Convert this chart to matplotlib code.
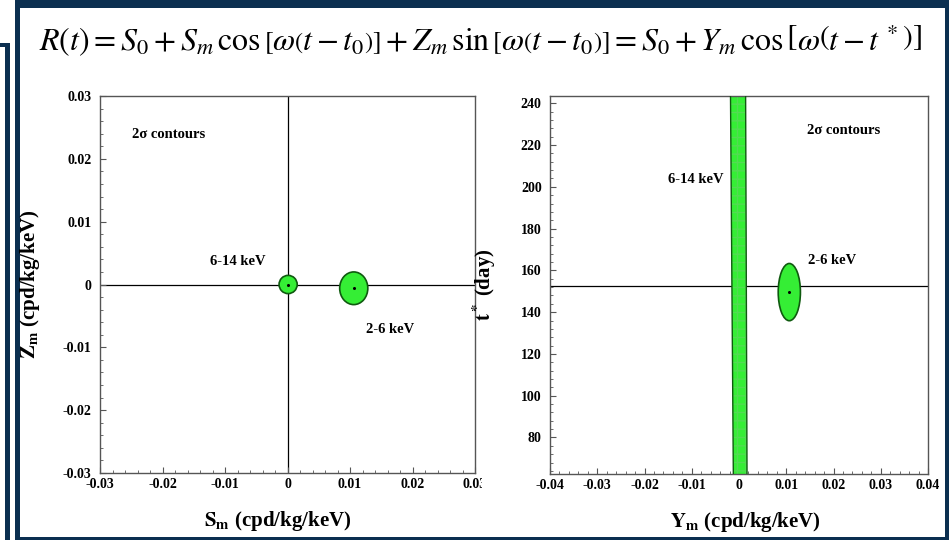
import matplotlib
matplotlib.use("Agg")
import matplotlib.pyplot as plt
from matplotlib.patches import Ellipse, Rectangle, Polygon
from matplotlib.ticker import MultipleLocator, AutoMinorLocator, FuncFormatter

plt.rcParams['font.family'] = ['Liberation Serif', 'DejaVu Serif']
plt.rcParams['font.weight'] = 'bold'
plt.rcParams['axes.labelweight'] = 'bold'
# math fonts named with an explicit weight, otherwise they pick up font.weight
plt.rcParams['mathtext.fontset'] = 'custom'
plt.rcParams['mathtext.rm'] = 'STIXGeneral:weight=normal'
plt.rcParams['mathtext.it'] = 'STIXGeneral:style=italic:weight=normal'
plt.rcParams['mathtext.bf'] = 'STIXGeneral:weight=bold'

# left panel: (S_m, Z_m) 2-sigma contours
sz_labels = ['6-14 keV', '2-6 keV']
sz_center_x = [0.0001, 0.0106]
sz_center_y = [0.0, -0.0006]
sz_width = [0.0029, 0.0045]
sz_height = [0.0029, 0.0052]

# right panel: (Y_m, t*) 2-sigma contours
yt_labels = ['6-14 keV', '2-6 keV']
ell_center_x = 0.01065
ell_center_t = 149.6
ell_width = 0.0047
ell_height = 27.4
band_t = [62.0, 244.0]
band_left = [-0.0012, -0.0018]
band_right = [0.0017, 0.0014]
t_june2 = 152.5

GREEN = '#35ee35'
EDGE = '#0f5a0f'
NAVY = '#0b2f50'

fig = plt.figure(figsize=(9.49, 5.4), dpi=100)
fig.patch.set_facecolor('white')
W, H = 949.0, 540.0


def px_rect(x0, y0, x1, y1, color, z):
    # rectangle given in image pixels (origin top-left)
    r = Rectangle((x0 / W, 1 - y1 / H), (x1 - x0) / W, (y1 - y0) / H,
                  transform=fig.transFigure, facecolor=color, edgecolor='none', zorder=z)
    fig.add_artist(r)


# slide frame and the edge of the slide behind
px_rect(15, 0, 949, 540, NAVY, -3)
px_rect(20, 8, 945, 537, 'white', -2)
px_rect(0, 43, 10, 47, NAVY, -3)
px_rect(5, 43, 10, 540, NAVY, -3)

fig.text(0.506, 0.924,
         r'$R(t) = S_0 + S_m\,\cos\left[\omega\left(t - t_0\right)\right] + Z_m\,\sin\left[\omega\left(t - t_0\right)\right] = S_0 + Y_m\,\cos\left[\omega\left(t - t^{\,*}\right)\right]$',
         ha='center', va='center', fontsize=23, fontweight='normal')


def fmt(v, pos):
    if abs(v) < 1e-9:
        return '0'
    return f'{v:.2f}'


def style(ax):
    for s in ax.spines.values():
        s.set_color('#555555')
        s.set_linewidth(1.0)
    ax.tick_params(which='both', direction='in', labelsize=10, colors='#555555', labelcolor='black')
    ax.tick_params(which='major', length=4)
    ax.tick_params(which='minor', length=2)
    ax.tick_params(axis='x', pad=3.5)
    ax.tick_params(axis='y', pad=6)
    ax.xaxis.set_minor_locator(AutoMinorLocator(5))
    ax.yaxis.set_minor_locator(AutoMinorLocator(5))


# ---- left panel
ax1 = fig.add_axes([100 / W, 1 - 473 / H, 375 / W, 377 / H])
ax1.set_xlim(-0.03, 0.03)
ax1.set_ylim(-0.03, 0.03)
ax1.axhline(0, color='black', lw=0.9, zorder=1)
ax1.axvline(0, color='black', lw=0.9, zorder=1)
for i in range(len(sz_labels)):
    e = Ellipse((sz_center_x[i], sz_center_y[i]), sz_width[i], sz_height[i],
                facecolor=GREEN, edgecolor=EDGE, lw=1.2, zorder=2)
    ax1.add_patch(e)
    ax1.plot(sz_center_x[i], sz_center_y[i], 'o', color='black', ms=1.2, zorder=3)
ax1.xaxis.set_major_locator(MultipleLocator(0.01))
ax1.yaxis.set_major_locator(MultipleLocator(0.01))
ax1.xaxis.set_major_formatter(FuncFormatter(fmt))
ax1.yaxis.set_major_formatter(FuncFormatter(fmt))
style(ax1)
ax1.text(-0.0248, 0.0239, '2σ contours', fontsize=10.5, ha='left', va='center')
ax1.text(-0.0080, 0.0036, sz_labels[0], fontsize=10.5, ha='center', va='center')
ax1.text(0.0165, -0.0071, sz_labels[1], fontsize=10.5, ha='center', va='center')
ax1.set_xlabel(r'$\mathbf{S_m}$ (cpd/kg/keV)', fontsize=15, fontweight='bold')
ax1.set_ylabel(r'$\mathbf{Z_m}$ (cpd/kg/keV)', fontsize=15, fontweight='bold')
ax1.xaxis.set_label_coords(0.475, -0.095)
ax1.yaxis.set_label_coords(-0.155, 0.5)

# ---- right panel
ax2 = fig.add_axes([550 / W, 1 - 474 / H, 378 / W, 378 / H])
ax2.set_xlim(-0.04, 0.04)
ax2.set_ylim(62.5, 243.5)
ax2.axhline(t_june2, color='black', lw=0.9, zorder=1)
band = Polygon([(band_left[0], band_t[0]), (band_right[0], band_t[0]),
                (band_right[1], band_t[1]), (band_left[1], band_t[1])],
               closed=True, facecolor=GREEN, edgecolor='#52dc52', lw=0, zorder=2,
               hatch='++')
ax2.add_patch(band)
ax2.plot([band_left[0], band_left[1]], band_t, color=EDGE, lw=1.0, zorder=3)
ax2.plot([band_right[0], band_right[1]], band_t, color=EDGE, lw=1.0, zorder=3)
e2 = Ellipse((ell_center_x, ell_center_t), ell_width, ell_height,
             facecolor=GREEN, edgecolor=EDGE, lw=1.2, zorder=2)
ax2.add_patch(e2)
ax2.plot(ell_center_x, ell_center_t, 'o', color='black', ms=1.2, zorder=3)
ax2.xaxis.set_major_locator(MultipleLocator(0.01))
ax2.yaxis.set_major_locator(MultipleLocator(20))
ax2.xaxis.set_major_formatter(FuncFormatter(fmt))
style(ax2)
ax2.text(0.0221, 227.2, '2σ contours', fontsize=10.5, ha='center', va='center')
ax2.text(-0.0092, 203.3, yt_labels[0], fontsize=10.5, ha='center', va='center')
ax2.text(0.0198, 164.9, yt_labels[1], fontsize=10.5, ha='center', va='center')
ax2.set_xlabel(r'$\mathbf{Y_m}$ (cpd/kg/keV)', fontsize=15, fontweight='bold')
ax2.set_ylabel(r'$\mathbf{t^*}$ (day)', fontsize=15, fontweight='bold')
ax2.xaxis.set_label_coords(0.516, -0.095)
ax2.yaxis.set_label_coords(-0.138, 0.5)

# the left picture is cropped through its last tick label
px_rect(482, 476, 489, 496, 'white', 10)

fig.savefig('out.png', dpi=100, facecolor='white')
